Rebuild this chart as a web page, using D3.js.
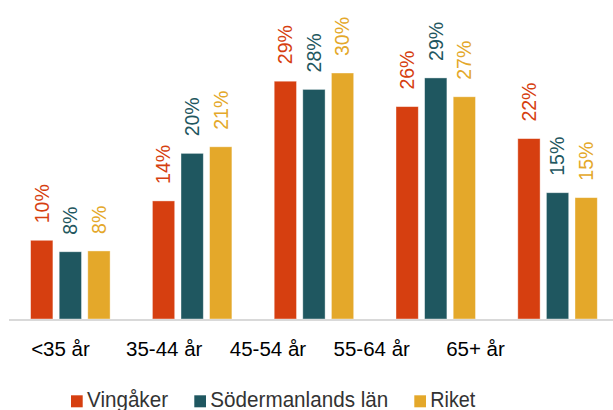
<!DOCTYPE html>
<html>
<head>
<meta charset="utf-8">
<script src="https://cdn.jsdelivr.net/npm/d3@7"></script>
<style>
    body { margin: 0; background: #fff; }
    svg { display: block; }
</style>
</head>
<body>
<svg id="chart" width="613" height="410"></svg>
<script>
// Data
const categories = ['<35 år', '35-44 år', '45-54 år', '55-64 år', '65+ år'];
const seriesNames = ['Vingåker', 'Södermanlands län', 'Riket'];
const vingaker = [9.6, 14.4, 29.0, 25.9, 22.0];
const sodermanland = [8.2, 20.2, 28.0, 29.4, 15.4];
const riket = [8.3, 21.0, 30.0, 27.1, 14.8];
const colors = ['#d63f10', '#1f5760', '#e4a82a'];

const series = [vingaker, sodermanland, riket];

let svg = d3.select('#chart'),
    baseline = 319,
    pxPerUnit = 8.2
;

// Scales
const xScale = d3.scaleBand().domain(categories).range([9.6, 618.6]).paddingInner(0).paddingOuter(0);
const xInner = d3.scaleBand().domain(seriesNames).range([21, 100.5]).paddingInner(0.22);
const yScale = d3.scaleLinear().domain([0, 30]).range([baseline, baseline - 30 * pxPerUnit]);
const labelScale = d3.scalePoint().domain(categories).range([60.5, 475.5]);

// Bars + value labels
series.forEach((values, s) => {
    let g = svg.append('g');
    let x = (i) => xScale(categories[i]) + xInner(seriesNames[s]);

    g.selectAll('rect').data(values).enter().append('rect')
        .attr('x', (d, i) => x(i))
        .attr('width', xInner.bandwidth())
        .attr('y', (d) => yScale(d))
        .attr('height', (d) => baseline - yScale(d))
        .attr('fill', colors[s])
        .attr('stroke', 'rgba(255,255,255,0.5)')
        .attr('stroke-width', 0.8);

    g.selectAll('text').data(values).enter().append('text')
        .attr('transform', (d, i) => 'translate(' + (x(i) + xInner.bandwidth() / 2) + ',' + (yScale(d) - 17) + ') rotate(-90)')
        .attr('dy', '0.35em')
        .attr('text-anchor', 'start')
        .attr('fill', colors[s])
        .attr('font-family', 'Liberation Sans, Arial, sans-serif')
        .attr('font-size', 19.5)
        .text((d) => Math.round(d) + '%');
});

// Axis line
svg.append('line')
    .attr('x1', 9).attr('x2', 613)
    .attr('y1', baseline + 1).attr('y2', baseline + 1)
    .attr('stroke', '#d9d9d9')
    .attr('stroke-width', 2);

// Category labels
svg.append('g').selectAll('text').data(categories).enter().append('text')
    .attr('x', (c) => labelScale(c))
    .attr('y', 355.5)
    .attr('text-anchor', 'middle')
    .attr('font-family', 'Liberation Sans, Arial, sans-serif')
    .attr('font-size', 20.5)
    .attr('fill', '#000')
    .text((c) => c);

// Legend
const legendX = [71, 194.3, 414.3];
const legendW = [81, 178, 45];
let legend = svg.append('g').selectAll('g').data(seriesNames).enter().append('g')
    .attr('transform', (d, i) => 'translate(' + legendX[i] + ',0)');
legend.append('rect')
    .attr('x', 0).attr('y', 395.3)
    .attr('width', 11.7).attr('height', 12)
    .attr('fill', (d, i) => colors[i]);
legend.append('text')
    .attr('x', 16).attr('y', 406.5)
    .attr('font-family', 'Liberation Sans, Arial, sans-serif')
    .attr('font-size', 22)
    .attr('textLength', (d, i) => legendW[i])
    .attr('lengthAdjust', 'spacingAndGlyphs')
    .attr('fill', '#333')
    .text((d) => d);
</script>
</body>
</html>
